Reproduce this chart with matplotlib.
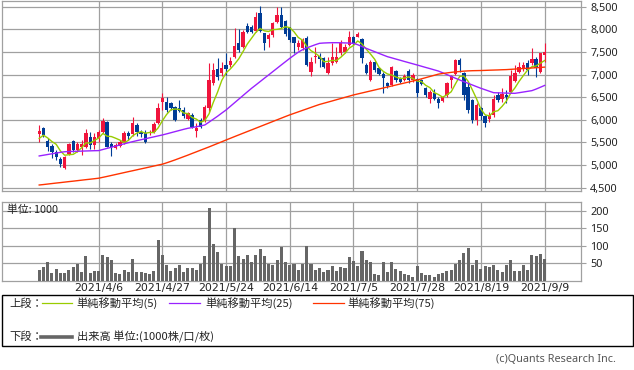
import numpy as np
import pandas as pd
import matplotlib
matplotlib.use('Agg')
import matplotlib.pyplot as plt
from matplotlib.patches import Rectangle
from matplotlib.lines import Line2D

# trading days (Tokyo), 2021/3/17 - 2021/9/9
holidays = ['2021-04-29', '2021-05-03', '2021-05-04', '2021-05-05',
            '2021-07-22', '2021-07-23', '2021-08-09']
dates = pd.bdate_range('2021-03-17', '2021-09-09', freq='C', holidays=holidays)

opens = [5688, 5828, 5541, 5423, 5297, 5143, 4929, 5246, 5541, 5334,
         5393, 5408, 5629, 5445, 5592, 5739, 5953, 5467, 5386, 5430,
         5482, 5717, 5688, 5887, 5739, 5717, 5702, 5739, 5938, 6402,
         6402, 6380, 6277, 6255, 6218, 6012, 6107, 5761, 5997, 5982,
         6255, 6807, 7116, 7028, 7212, 7212, 7396, 7691, 7617, 8074,
         8059, 7963, 8368, 7912, 7779, 7875, 8169, 8317, 8191, 8044,
         7838, 7602, 7580, 7801, 7065, 7382, 7411, 7359, 7028, 7249,
         7286, 7485, 7507, 7654, 7823, 7838, 7779, 7212, 6881, 7286,
         7138, 7013, 6807, 6770, 7087, 6903, 6881, 7087, 6881, 6895,
         6881, 6697, 6454, 6601, 6454, 6424, 6550, 6880, 7013, 7323,
         7028, 6733, 6439, 5997, 6255, 6085, 6012, 6107, 6549, 6454,
         6549, 6623, 6866, 7065, 7116, 7264, 7249, 7337, 7065, 7433]
closes = [5761, 5658, 5408, 5297, 5172, 5025, 5187, 5467, 5334, 5467,
          5467, 5717, 5445, 5629, 5725, 5982, 5408, 5408, 5445, 5518,
          5702, 5651, 5923, 5739, 5688, 5518, 5739, 5908, 6255, 6476,
          6218, 6255, 5997, 6203, 6085, 6144, 5835, 5813, 5850, 6292,
          6881, 7102, 6940, 7153, 7116, 7308, 7632, 7543, 7948, 7948,
          7948, 8280, 7970, 7691, 7875, 8147, 8317, 8059, 7897, 7764,
          7691, 7691, 7764, 7212, 7286, 7411, 7337, 7175, 7249, 7396,
          7396, 7691, 7617, 7823, 7691, 7897, 7359, 7043, 7286, 7102,
          7013, 6918, 6748, 7175, 6881, 6844, 6969, 6881, 6991, 6601,
          6792, 6549, 6623, 6454, 6380, 6498, 6805, 6960, 7323, 7212,
          6549, 6218, 5997, 6328, 6085, 5923, 6107, 6454, 6439, 6571,
          6498, 6969, 7043, 7175, 7212, 7102, 7337, 7138, 7470, 7507]
highs = [5887, 5850, 5592, 5460, 5334, 5187, 5202, 5496, 5555, 5518,
         5555, 5798, 5725, 5702, 5776, 6034, 5982, 5518, 5482, 5555,
         5754, 5754, 6071, 5923, 5776, 5776, 5776, 5960, 6380, 6586,
         6513, 6402, 6306, 6439, 6277, 6181, 6144, 5923, 6034, 6328,
         7249, 7249, 7359, 7286, 7470, 7396, 8022, 8000, 7985, 8133,
         8096, 8390, 8515, 7912, 7926, 8169, 8486, 8486, 8206, 8059,
         7838, 7764, 7801, 7853, 7381, 7602, 7470, 7396, 7396, 7691,
         7617, 7764, 7680, 7971, 7853, 7948, 7801, 7249, 7323, 7308,
         7175, 7065, 6844, 7190, 7102, 6940, 7013, 7116, 7028, 6918,
         6910, 6719, 6660, 6675, 6513, 6527, 6842, 7000, 7337, 7359,
         7065, 6807, 6454, 6365, 6292, 6107, 6181, 6549, 6623, 6697,
         6660, 7102, 7212, 7286, 7286, 7323, 7580, 7396, 7485, 7691]
lows = [5518, 5629, 5320, 5150, 5113, 4966, 4907, 5216, 5297, 5297,
        5224, 5371, 5356, 5349, 5518, 5702, 5393, 5209, 5356, 5408,
        5467, 5555, 5644, 5644, 5614, 5482, 5666, 5717, 5909, 6218,
        6181, 6218, 5982, 6181, 6034, 5997, 5813, 5614, 5813, 5960,
        6181, 6770, 6881, 6969, 6991, 7175, 7359, 7507, 7580, 7912,
        7912, 7948, 7948, 7543, 7617, 7838, 8147, 8022, 7853, 7728,
        7470, 7543, 7543, 7190, 6969, 7264, 7175, 7138, 7013, 7212,
        7249, 7433, 7470, 7632, 7654, 7823, 7264, 7013, 6859, 7065,
        6991, 6601, 6697, 6748, 6844, 6822, 6851, 6822, 6829, 6513,
        6763, 6513, 6365, 6439, 6255, 6402, 6510, 6700, 6991, 7065,
        6439, 6144, 5938, 5887, 5997, 5835, 5960, 6071, 6402, 6402,
        6365, 6586, 6844, 7043, 7087, 6991, 7212, 6954, 7028, 7286]
volume = [30, 40, 54, 23, 33, 23, 23, 30, 40, 47,
          26, 70, 23, 27, 27, 73, 68, 59, 21, 19,
          30, 26, 62, 26, 26, 23, 20, 27, 116, 73,
          45, 27, 35, 45, 26, 37, 35, 30, 49, 70,
          208, 104, 82, 49, 43, 43, 151, 70, 62, 73,
          54, 73, 90, 70, 49, 45, 59, 96, 54, 45,
          49, 30, 49, 98, 47, 30, 35, 26, 30, 43,
          27, 39, 37, 67, 56, 42, 84, 59, 53, 19,
          16, 53, 25, 53, 33, 27, 19, 16, 10, 42,
          22, 16, 16, 10, 19, 22, 27, 30, 48, 59,
          79, 93, 45, 59, 33, 42, 39, 45, 30, 25,
          45, 59, 27, 27, 45, 30, 73, 70, 76, 62]
# moving averages (history before 3/17 not shown)
ma5_head = [5590, 5660, 5600, 5520]
ma25 = [5202, 5218, 5234, 5250, 5266, 5282, 5295, 5300, 5303, 5306,
        5309, 5312, 5315, 5318, 5320, 5345, 5370, 5395, 5420, 5445,
        5470, 5494, 5518, 5540, 5561, 5582, 5603, 5624, 5645, 5666,
        5690, 5715, 5740, 5765, 5790, 5813, 5830, 5848, 5866, 5887,
        5950, 6015, 6080, 6150, 6218, 6298, 6378, 6458, 6538, 6618,
        6697, 6770, 6844, 6918, 6991, 7065, 7139, 7213, 7286, 7359,
        7428, 7496, 7550, 7590, 7625, 7660, 7691, 7698, 7702, 7705,
        7705, 7703, 7700, 7696, 7691, 7660, 7620, 7580, 7543, 7506,
        7469, 7432, 7396, 7370, 7343, 7317, 7290, 7264, 7238, 7212,
        7185, 7158, 7132, 7105, 7078, 7040, 7000, 6960, 6920, 6881,
        6844, 6807, 6770, 6733, 6697, 6665, 6632, 6600, 6597, 6594,
        6591, 6588, 6586, 6600, 6615, 6630, 6645, 6680, 6720, 6760]
ma75 = [4560, 4570, 4581, 4592, 4603, 4613, 4624, 4635, 4645, 4656,
        4667, 4678, 4688, 4699, 4710, 4730, 4750, 4771, 4792, 4813,
        4834, 4855, 4875, 4896, 4917, 4937, 4958, 4979, 5000, 5020,
        5050, 5082, 5115, 5150, 5185, 5220, 5257, 5293, 5330, 5366,
        5402, 5440, 5478, 5516, 5555, 5592, 5630, 5667, 5704, 5741,
        5778, 5815, 5852, 5889, 5926, 5963, 6000, 6037, 6074, 6110,
        6143, 6176, 6209, 6242, 6275, 6308, 6340, 6366, 6392, 6418,
        6445, 6471, 6497, 6523, 6550, 6572, 6594, 6616, 6638, 6660,
        6682, 6704, 6726, 6748, 6770, 6792, 6814, 6836, 6858, 6880,
        6906, 6932, 6958, 6984, 7010, 7024, 7037, 7049, 7060, 7068,
        7076, 7082, 7086, 7088, 7090, 7093, 7097, 7100, 7103, 7107,
        7110, 7116, 7122, 7128, 7134, 7140, 7146, 7152, 7158, 7165]

UP = '#f0143c'
DOWN = '#003c96'
C5, C25, C75 = '#99cc00', '#9922ff', '#ff3300'
GRID = '#a0a0a0'
TXT = '#222222'

plt.rcParams['font.family'] = ['Noto Sans CJK JP', 'DejaVu Sans']

W, H = 634, 370
def box(x0, y0, x1, y1):
    return [x0 / W, 1 - y1 / H, (x1 - x0) / W, (y1 - y0) / H]

fig = plt.figure(figsize=(W / 100, H / 100), dpi=100)
ax = fig.add_axes(box(1.7, 0.7, 580.7, 190.7))
axv = fig.add_axes(box(1.7, 201.7, 580.7, 280.7))

x = np.arange(len(closes))
o, c = np.array(opens), np.array(closes)
up = c >= o
col = np.where(up, UP, DOWN)

ma5 = pd.Series(closes).rolling(5).mean().to_numpy()
ma5[:4] = ma5_head

# candles
ax.vlines(x, lows, highs, colors=col, linewidth=0.8, zorder=3)
body = np.maximum(np.abs(c - o), 12)
ax.bar(x, body, bottom=np.minimum(o, c), width=0.78, color=col, linewidth=0, zorder=4)
ax.plot(x, ma5, color=C5, lw=1.0, zorder=5)
ax.plot(x, ma25, color=C25, lw=1.0, zorder=5)
ax.plot(x, ma75, color=C75, lw=1.0, zorder=5)

axv.bar(x, volume, width=0.72, color='#666666', linewidth=0, zorder=3)

xticks = x[14::15]
xlabels = [f'{d.year}/{d.month}/{d.day}' for d in dates[14::15]]
xlim = (-8.83, 127.5)

for a in (ax, axv):
    a.set_xlim(*xlim)
    a.set_xticks(xticks)
    a.grid(True, color=GRID, linewidth=0.9, zorder=0)
    a.set_axisbelow(True)
    for s in a.spines.values():
        s.set_color(GRID)
        s.set_linewidth(0.9)
    a.yaxis.tick_right()
    a.tick_params(axis='y', length=3.6, width=0.8, color=GRID, pad=3.2,
                  labelsize=7.8, labelcolor=TXT)

ax.set_ylim(4434, 8633)
yt = np.arange(4500, 8501, 500)
ax.set_yticks(yt)
ax.set_yticklabels([f'{v:,}' for v in yt], family='Noto Sans')
ax.tick_params(axis='x', length=0, labelbottom=False)

axv.set_ylim(0, 225.6)
vt = [50, 100, 150, 200]
axv.set_yticks(vt)
axv.set_yticklabels([str(v) for v in vt], family='Noto Sans')
axv.set_xticklabels(xlabels, family='DejaVu Sans')
axv.tick_params(axis='x', length=0, pad=2.0, labelsize=7.9, labelcolor=TXT)
axv.text(0.009, 0.9, '単位: 1000', transform=axv.transAxes, fontsize=7.8,
         color=TXT, va='center', ha='left')

# legend box below the chart
def fx(v):
    return v / W
def fy(v):
    return 1 - v / H

fig.patches.append(Rectangle((fx(1.7), fy(346)), fx(633) - fx(1.7), fy(295) - fy(346),
                             transform=fig.transFigure, fill=False, edgecolor='black',
                             linewidth=1.0))
ty1, ty2 = 303.3, 336.7
fs = 8.1
fig.text(fx(9), fy(ty1), '上段：', fontsize=fs, va='center', color=TXT)
fig.text(fx(9), fy(ty2), '下段：', fontsize=fs, va='center', color=TXT)
for (x0, x1, tx, colr, lab) in [(41.7, 71.7, 76.7, C5, '単純移動平均(5)'),
                                (169, 200, 205, C25, '単純移動平均(25)'),
                                (313, 344, 347, C75, '単純移動平均(75)')]:
    fig.lines.append(Line2D([fx(x0), fx(x1)], [fy(ty1), fy(ty1)], color=colr,
                            lw=0.9, transform=fig.transFigure))
    fig.text(fx(tx), fy(ty1), lab, fontsize=fs, va='center', color=TXT)
fig.lines.append(Line2D([fx(40.7), fx(71.7)], [fy(ty2), fy(ty2)], color='#666666',
                        lw=2.6, transform=fig.transFigure))
fig.text(fx(76.7), fy(ty2), '出来高 単位:(1000株/口/枚)', fontsize=fs, va='center',
         color=TXT)
fig.text(fx(615.7), fy(359), '(c)Quants Research Inc.', fontsize=7.8, va='center',
         ha='right', color='#555555', family='Noto Sans')

fig.savefig('out.png', dpi=100)
